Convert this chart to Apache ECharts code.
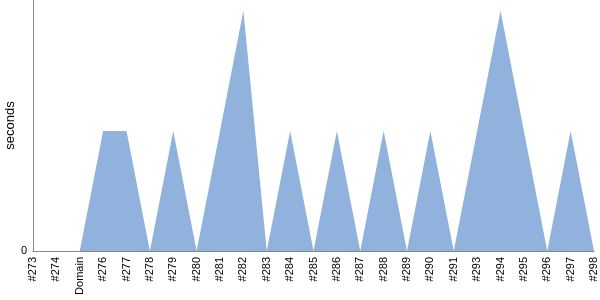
<!DOCTYPE html>
<html><head><meta charset="utf-8">
<script src="https://cdn.jsdelivr.net/npm/echarts@6/dist/echarts.min.js"></script>
<style>html,body{margin:0;padding:0;background:#fff}#c{width:600px;height:300px}</style>
</head><body><div id="c"></div>
<script>
const categories = ['#273','#274','Domain','#276','#277','#278','#279','#280','#281','#282','#283','#284','#285','#286','#287','#288','#289','#290','#291','#293','#294','#295','#296','#297','#298'];
const seconds = [0,0,0,1,1,0,1,0,1,2,0,1,0,1,0,1,0,1,0,1,2,1,0,1,0];
const yTickLabels = ['0'];
const chart = echarts.init(document.getElementById('c'), null, {renderer:'canvas'});
chart.setOption({
  animation:false,
  grid:{left:33,right:6,top:0,bottom:49,containLabel:false,outerBoundsMode:'none'},
  xAxis:{type:'category',data:categories,boundaryGap:false,
    axisLine:{lineStyle:{color:'#888',width:1}},axisTick:{show:false},
    axisLabel:{rotate:90,interval:0,color:'#000',fontFamily:'Liberation Sans',fontSize:11,margin:6}},
  yAxis:{type:'value',min:0,max:2.09,interval:2.09,name:'seconds',nameLocation:'middle',nameGap:16,
    nameMoveOverlap:false,
    nameTextStyle:{color:'#000',fontFamily:'Liberation Sans',fontSize:13},
    axisLine:{show:true,lineStyle:{color:'#888',width:1}},axisTick:{show:false},splitLine:{show:false},
    axisLabel:{color:'#000',fontFamily:'Liberation Sans',fontSize:11,margin:6,
      formatter:v=>v===0?yTickLabels[0]:''}},
  series:[{type:'line',data:seconds,showSymbol:false,lineStyle:{width:0},
    areaStyle:{color:'#90b2dc',opacity:1}}]
});
</script></body></html>
